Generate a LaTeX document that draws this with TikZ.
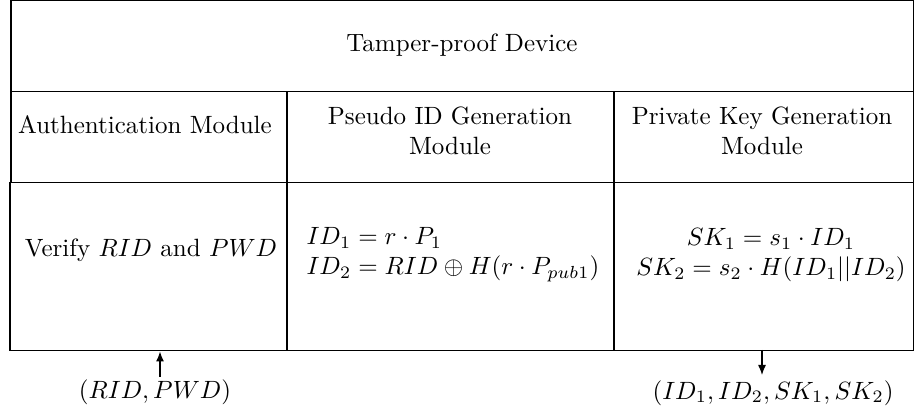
\documentclass[tikz,border=0pt]{standalone}
\usetikzlibrary{arrows.meta}
\begin{document}
\begin{tikzpicture}[x=0.4pt,y=-0.4pt,
  cell/.style={draw,line width=0.6pt,inner sep=0pt,anchor=north west},
  lbl/.style={inner sep=0pt,align=center},
  arr/.style={line width=0.5pt,-{Latex[length=4pt,width=3.2pt]}}]
\useasboundingbox (0,0) rectangle (914,412);
% cells
\node[cell,minimum width=903*0.4pt,minimum height=91*0.4pt] (top) at (10,0) {};
\node[cell,minimum width=276*0.4pt,minimum height=91*0.4pt] (authh) at (10,91) {};
\node[cell,minimum width=327*0.4pt,minimum height=91*0.4pt] (pidh) at (286,91) {};
\node[cell,minimum width=300*0.4pt,minimum height=91*0.4pt] (pkh) at (613,91) {};
\node[cell,minimum width=277*0.4pt,minimum height=168*0.4pt] (authb) at (9,182) {};
\node[cell,minimum width=327*0.4pt,minimum height=168*0.4pt] (pidb) at (286,182) {};
\node[cell,minimum width=300*0.4pt,minimum height=168*0.4pt] (pkb) at (613,182) {};
% texts
\node[lbl] (ttop) at (462,45) {Tamper-proof Device};
\node[lbl] (tauth) at (145,125) {Authentication Module};
\node[lbl] (tpid) at (450,131) {Pseudo ID Generation\\Module};
\node[lbl] (tpk) at (762,131) {Private Key Generation\\Module};
\node[lbl] (tver) at (151,250) {Verify $RID$ and $PWD$};
\node[lbl,align=left,anchor=west] (tpideq) at (306,255) {$ID_1 = r\cdot P_1$\\$ID_2 = RID \oplus H(r\cdot P_{pub1})$};
\node[lbl] (tpkeq) at (771,255) {$SK_1 = s_1\cdot ID_1$\\$SK_2 = s_2\cdot H(ID_1||ID_2)$};
% io labels
\node[lbl] (in) at (155,392) {$(RID, PWD)$};
\node[lbl] (out) at (773,393) {$(ID_1, ID_2, SK_1, SK_2)$};
\coordinate (a1) at (160,377);
\coordinate (a2) at (762,350);
\draw[arr] (a1) -- (a1 |- authb.south);
\draw[arr] (a2) -- ++(0,25);
\end{tikzpicture}
\end{document}
